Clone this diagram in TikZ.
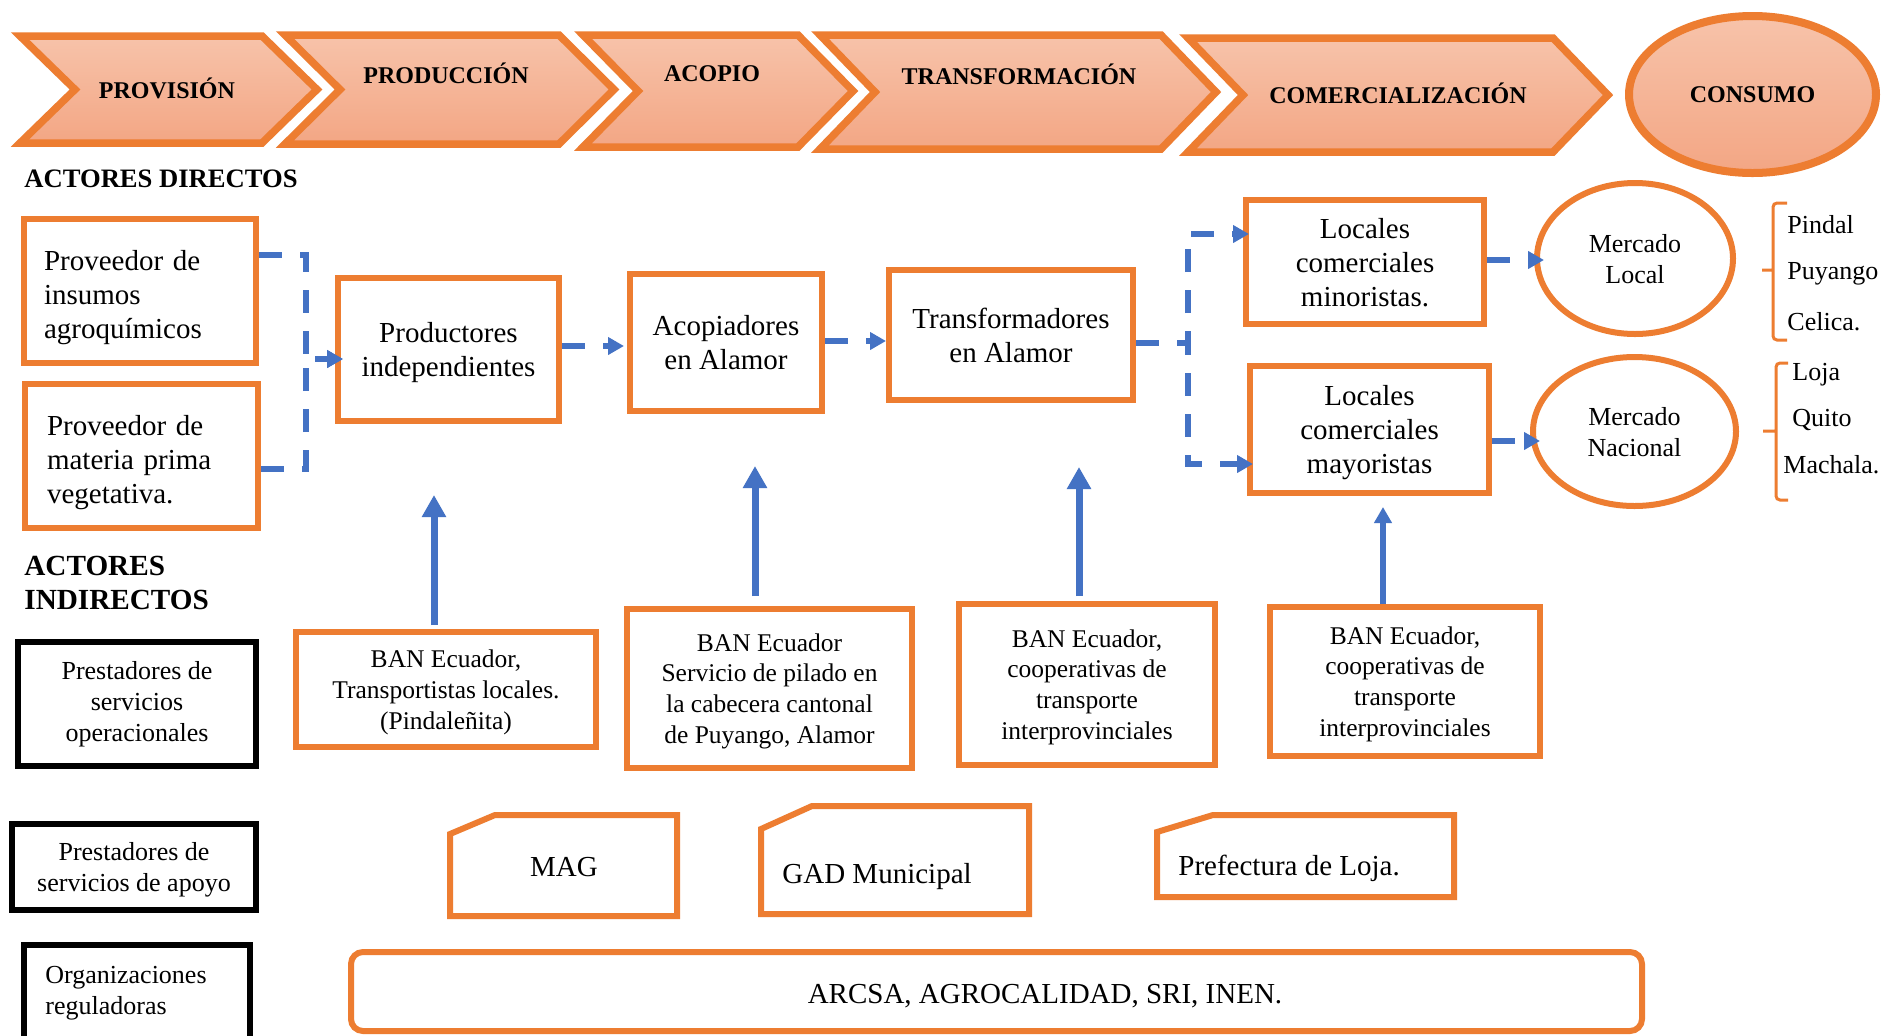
\documentclass[tikz,border=0pt]{standalone}
\usepackage{fontspec}
\setmainfont{Liberation Serif}
\usetikzlibrary{arrows.meta,shapes.geometric}

\definecolor{orng}{HTML}{ED7D31}
\definecolor{blu}{HTML}{4472C4}
\definecolor{chevtop}{HTML}{F7C3AA}
\definecolor{chevbot}{HTML}{F3A684}

\tikzset{
  wh/.style 2 args={minimum width=#1*0.5pt, minimum height=#2*0.5pt},
  tdp/.style={text depth=#1},
  obox/.style={rectangle, draw=orng, line width=3pt, fill=white, inner sep=0pt, align=center},
  kbox/.style={rectangle, draw=black, line width=3pt, fill=white, inner sep=0pt, align=center},
  oell/.style={ellipse, draw=orng, line width=3pt, fill=white, inner sep=0pt, align=center},
  chev/.style={draw=orng, line width=3.75pt, line join=miter, top color=chevtop, bottom color=chevbot},
  snip/.style={draw=orng, line width=3pt, line join=miter},
  brc/.style={draw=orng, line width=1.5pt, rounded corners=2pt},
  stagetxt/.style={font=\fontsize{12}{14}\selectfont\bfseries, inner sep=0pt},
  headtxt/.style={font=\fontsize{13.3}{16}\selectfont\bfseries, inner sep=0pt, anchor=west, align=left},
  txtL/.style={font=\fontsize{14.5}{17}\selectfont},
  txtM/.style={font=\fontsize{13}{15.5}\selectfont},
  txtS/.style={font=\fontsize{12.75}{15.4}\selectfont},
  plain/.style={inner sep=0pt, anchor=west},
  dflow/.style={draw=blu, line width=3pt, dash pattern=on 11.5pt off 9pt,
    -{Triangle[length=8pt,width=8.5pt]}},
  upflow/.style={draw=blu, line width=3.5pt, -{Triangle[length=11pt,width=11.5pt]}},
  upthin/.style={draw=blu, line width=2.75pt, -{Triangle[length=8pt,width=8.5pt]}},
}

\begin{document}
\begin{tikzpicture}[x=0.5pt,y=-0.5pt]
\useasboundingbox (0,0) rectangle (1885,1035);
\clip (0,0) rectangle (1885,1035);
\fill[white] (0,0) rectangle (1885,1035);

% ---- value chain stages ----
\path[chev] (20,36) -- (262,36) -- (317,89.5) -- (262,143) -- (20,143) -- (75,89.5) -- cycle;
\path[chev] (285,35) -- (559,35) -- (614,89.5) -- (559,144) -- (285,144) -- (340,89.5) -- cycle;
\path[chev] (583,35) -- (798,35) -- (853,91) -- (798,147) -- (583,147) -- (638,91) -- cycle;
\path[chev] (820,35) -- (1161,35) -- (1216,92) -- (1161,149) -- (820,149) -- (875,92) -- cycle;
\path[chev] (1188,38) -- (1553,38) -- (1608,95) -- (1553,152) -- (1188,152) -- (1243,95) -- cycle;
\node[ellipse, draw=orng, line width=4pt, top color=chevtop, bottom color=chevbot,
      wh={247}{157}, inner sep=0pt, stagetxt] (cons) at (1752.5,94.5) {CONSUMO};

\node[stagetxt] (sprov)  at (167,88)    {PROVISIÓN};
\node[stagetxt] (sprod)  at (446,73.5)  {PRODUCCIÓN};
\node[stagetxt] (sacop)  at (712,74)    {ACOPIO};
\node[stagetxt] (strans) at (1019,74.5) {TRANSFORMACIÓN};
\node[stagetxt] (scomer) at (1398,93.5) {COMERCIALIZACIÓN};

% ---- direct actors ----
\node[headtxt] (hdir) at (24,179) {ACTORES DIRECTOS};

\node[obox, wh={232}{144}, text width=96pt, align=left, txtL, tdp=30.8pt] (prov1) at (140,291)
  {Proveedor de\\insumos\\agroquímicos};
\node[obox, wh={233}{144}, text width=94.5pt, align=left, txtL, tdp=30.8pt] (prov2) at (141.5,456)
  {Proveedor de\\materia prima\\vegetativa.};
\node[obox, wh={221}{143}, txtL, tdp=-3.5pt] (prod)  at (448.5,349.5) {Productores\\independientes};
\node[obox, wh={192}{137}, txtL, tdp=-4pt]   (acop)  at (726,342.5)   {Acopiadores\\en Alamor};
\node[obox, wh={244}{130}, txtL, tdp=-2.5pt] (trans) at (1011,335)    {Transformadores\\en Alamor};
\node[obox, wh={238}{124}, txtL, tdp=-3.5pt] (lmin)  at (1365,262)    {Locales\\comerciales\\minoristas.};
\node[obox, wh={239}{127}, txtL, tdp=-2pt]   (lmay)  at (1369.5,429.5) {Locales\\comerciales\\mayoristas};
\node[oell, wh={196}{151}, txtM, tdp=-3.5pt] (mloc)  at (1635,258.5)  {Mercado\\Local};
\node[oell, wh={203}{149}, txtM, tdp=-3.5pt] (mnac)  at (1634.5,431.5) {Mercado\\Nacional};

% destination towns
\draw[brc] (1787,203) -- (1773,203) -- (1773,340) -- (1787,340) (1773,270) -- (1762,270);
\draw[brc] (1788,363) -- (1776,363) -- (1776,500) -- (1788,500) (1776,431) -- (1763,431);
\node[plain, txtM] (pindal)  at (1787,225) {Pindal};
\node[plain, txtM] (puyango) at (1787,273.5) {Puyango};
\node[plain, txtM] (celica)  at (1787,322) {Celica.};
\node[plain, txtM] (loja)    at (1792,374.5) {Loja};
\node[plain, txtM] (quito)   at (1792,420) {Quito};
\node[plain, txtM] (machala) at (1783,465) {Machala.};

% ---- flows between direct actors ----
\draw[dflow, shorten >=-4pt] (prov1.east |- 0,255) -- (306,255) -- (306,359) -- (prod.west |- 0,359);
\draw[dflow, shorten >=-4pt] (prov2.east |- 0,469) -- (306,469) -- (306,359) -- (prod.west |- 0,359);
\draw[dflow, shorten >=1.5pt] (prod.east |- 0,346) -- (acop.west |- 0,346);
\draw[dflow] (acop.east |- 0,341) -- (trans.west |- 0,341);
\draw[dflow, shorten >=-3pt] (trans.east |- 0,343) -- (1188,343) -- (1188,234) -- (lmin.west |- 0,234);
\draw[dflow, shorten >=-3pt] (trans.east |- 0,343) -- (1188,343) -- (1188,464) -- (lmay.west |- 0,464);
\draw[dflow, shorten >=-5pt] (lmin.east |- 0,260) -- (mloc.west |- 0,260);
\draw[dflow, shorten >=-5pt] (lmay.east |- 0,441) -- (mnac.west |- 0,441);

% ---- indirect actors ----
\node[headtxt, font=\fontsize{14.6}{17}\selectfont\bfseries] (hind) at (24,582.5) {ACTORES\\INDIRECTOS};

\node[kbox, wh={238}{124}, txtM] (ops)   at (137,704) {Prestadores de\\servicios\\operacionales};
\node[kbox, wh={244}{86},  txtM, tdp=-4.5pt] (apoyo) at (134,867) {Prestadores de\\servicios de apoyo};
\node[kbox, wh={226}{130}] (org) at (137,1010) {};
\node[plain, txtM, align=left] (orgtxt) at (45,993.6) {Organizaciones\\reguladoras};

\node[obox, wh={300}{115}, txtS, tdp=-4pt] (ban1) at (446,689.5)
  {BAN Ecuador,\\Transportistas locales.\\(Pindaleñita)};
\node[obox, wh={285}{159}, txtS, tdp=-3.8pt] (ban2) at (769.5,688.5)
  {BAN Ecuador\\Servicio de pilado en\\la cabecera cantonal\\de Puyango, Alamor};
\node[obox, wh={256}{161}, txtS, tdp=-5.6pt] (ban3) at (1087,684.5)
  {BAN Ecuador,\\cooperativas de\\transporte\\interprovinciales};
\node[obox, wh={270}{149}, txtS, tdp=-0.8pt] (ban4) at (1405,681.5)
  {BAN Ecuador,\\cooperativas de\\transporte\\interprovinciales};

% support from operational services
\coordinate (u1) at (434,495);
\coordinate (u2) at (755,466);
\coordinate (u3) at (1079,467);
\coordinate (u4) at (1383,507);
\draw[upflow, shorten <=2pt] (ban1.north -| u1) -- (u1);
\draw[upflow, shorten <=5pt] (ban2.north -| u2) -- (u2);
\draw[upflow, shorten <=2.5pt] (ban3.north -| u3) -- (u3);
\draw[upthin] (ban4.north -| u4) -- (u4);

% support institutions
\draw[snip] (450,916) -- (450,834) -- (495,815) -- (677,815) -- (677,916) -- cycle;
\draw[snip] (761,914) -- (761,829) -- (812,806) -- (1029,806) -- (1029,914) -- cycle;
\draw[snip] (1157,897) -- (1157,832) -- (1213,815) -- (1454,815) -- (1454,897) -- cycle;
\node[txtL, inner sep=0pt] (mag) at (564,867.4) {MAG};
\node[plain, txtL] (gad)  at (782,877)  {GAD Municipal};
\node[plain, txtL] (pref) at (1178,868.5) {Prefectura de Loja.};

% regulators
\node[obox, rounded corners=6pt, wh={1291}{79}] (arcsa) at (996.5,991.5) {};
\node[txtL, inner sep=0pt] (arcsatxt) at (1045,996.6) {ARCSA, AGROCALIDAD, SRI, INEN.};
\end{tikzpicture}
\end{document}
